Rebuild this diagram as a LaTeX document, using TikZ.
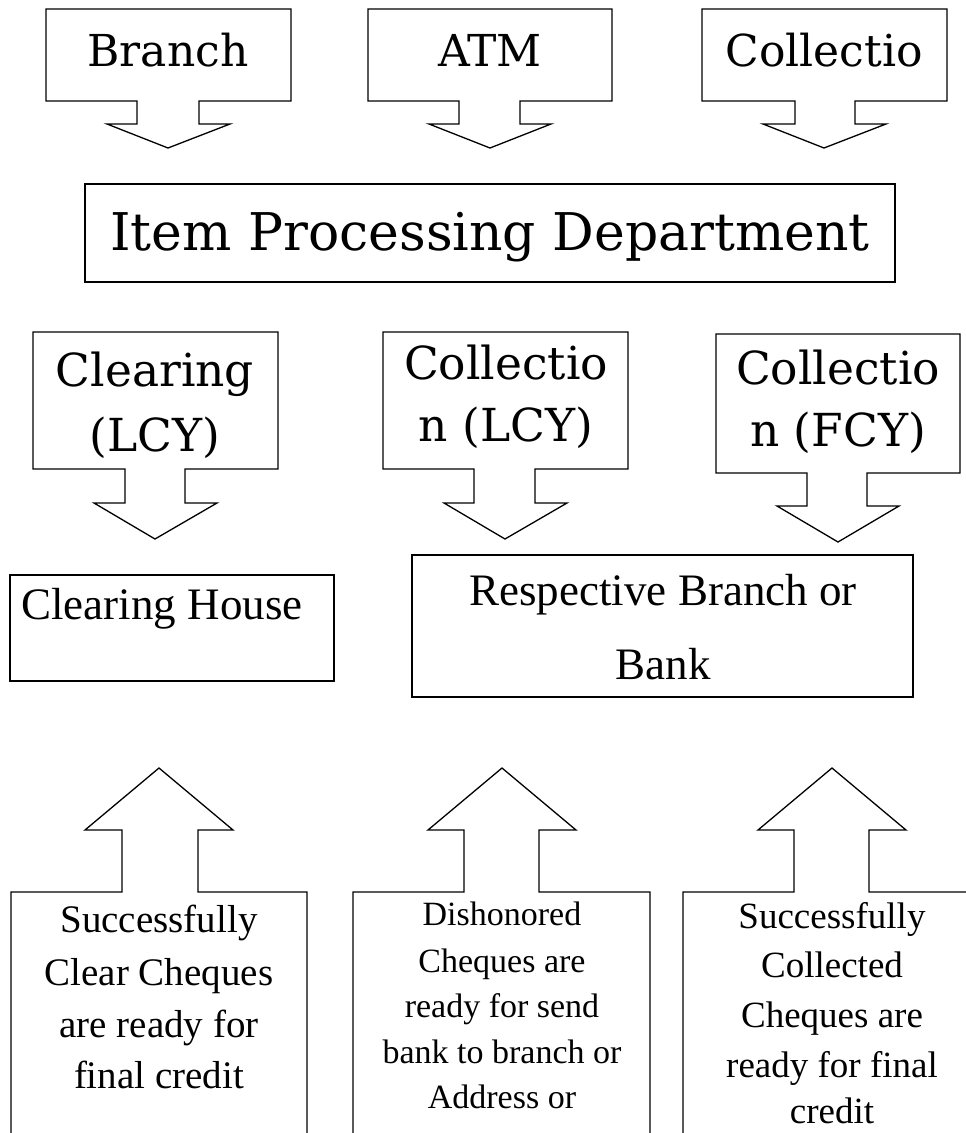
\documentclass[tikz,border=0pt]{standalone}
\usepackage{fontspec}
\setmainfont{Liberation Serif}
\newfontfamily\slab{DejaVu Serif}
\begin{document}
\begin{tikzpicture}[x=1pt,y=-1pt,
  shp/.style={draw=black,line width=1.3pt,line join=miter,fill=white},
  slabtxt/.style={anchor=base,inner sep=0pt,font=\slab\fontsize{44}{50}\selectfont},
  slabtwo/.style={anchor=base,inner sep=0pt,font=\slab\fontsize{45.5}{52}\selectfont},
  bigtxt/.style={anchor=base,inner sep=0pt,font=\slab\fontsize{52}{60}\selectfont},
  tmtxt/.style={anchor=base,inner sep=0pt,font=\fontsize{45}{52}\selectfont},
  tma/.style={anchor=base,inner sep=0pt,font=\fontsize{39}{45}\selectfont},
  tmb/.style={anchor=base,inner sep=0pt,font=\fontsize{34}{40}\selectfont},
  tmc/.style={anchor=base,inner sep=0pt,font=\fontsize{37}{43}\selectfont}]
\useasboundingbox (0,0) rectangle (966,1133);
\fill[white] (0,0) rectangle (966,1133);
\clip (0,0) rectangle (966,1133);

% ---- top row: down-arrow callouts
\draw[shp] (46,9) -- (291,9) -- (291,101) -- (199,101) -- (199,124) -- (230,124) -- (168,148) -- (107,124) -- (137,124) -- (137,101) -- (46,101) -- cycle;
\draw[shp] (368,9) -- (612,9) -- (612,101) -- (520,101) -- (520,124) -- (551,124) -- (490,148) -- (429,124) -- (459,124) -- (459,101) -- (368,101) -- cycle;
\draw[shp] (702,9) -- (947,9) -- (947,101) -- (855,101) -- (855,124) -- (886,124) -- (824,148) -- (763,124) -- (795,124) -- (795,101) -- (702,101) -- cycle;
\node[slabtxt] (branch) at (168,66) {Branch};
\node[slabtxt] (atm) at (490,66) {ATM};
\node[slabtxt] (coll) at (824,66) {Collectio};

% ---- Item Processing Department
\draw[shp] (85,184) rectangle (895,282);
\node[bigtxt] (ipd) at (490,250) {Item Processing Department};

% ---- second row: down-arrow callouts
\draw[shp] (33,332) -- (278,332) -- (278,469) -- (185,469) -- (185,503) -- (217,503) -- (155,539) -- (94,503) -- (125,503) -- (125,469) -- (33,469) -- cycle;
\draw[shp] (383,332) -- (628,332) -- (628,469) -- (535,469) -- (535,503) -- (567,503) -- (505,539) -- (444,503) -- (474,503) -- (474,469) -- (383,469) -- cycle;
\draw[shp] (716,334) -- (960,334) -- (960,473) -- (867,473) -- (867,506) -- (899,506) -- (838,542) -- (777,506) -- (807,506) -- (807,473) -- (716,473) -- cycle;
\node[slabtwo] (clr1) at (155,386) {Clearing};
\node[slabtwo] (clr2) at (155,451) {(LCY)};
\node[slabtwo] (cl1) at (506,379) {Collectio};
\node[slabtwo] (cl2) at (506,441) {n (LCY)};
\node[slabtwo] (cf1) at (838,384) {Collectio};
\node[slabtwo] (cf2) at (838,446) {n (FCY)};

% ---- Clearing House / Respective Branch
\draw[shp] (10,575) rectangle (334,681);
\node[tmtxt] (ch) at (162,619) {Clearing House};
\draw[shp] (412,555) rectangle (913,697);
\node[tmtxt] (rb1) at (663,605) {Respective Branch or};
\node[tmtxt] (rb2) at (663,679) {Bank};

% ---- bottom row: up-arrow callouts
\draw[shp] (11,1145) -- (11,892) -- (122,892) -- (122,830) -- (85,830) -- (159,768) -- (233,830) -- (198,830) -- (198,892) -- (307,892) -- (307,1145);
\draw[shp] (353,1145) -- (353,892) -- (464,892) -- (464,830) -- (428,830) -- (502,768) -- (576,830) -- (539,830) -- (539,892) -- (650,892) -- (650,1145);
\draw[shp] (683,1145) -- (683,892) -- (794,892) -- (794,830) -- (758,830) -- (832,768) -- (906,830) -- (869,830) -- (869,892) -- (980,892) -- (980,1145);

\node[tma] (a1) at (159,932) {Successfully};
\node[tma] (a2) at (159,985) {Clear Cheques};
\node[tma] (a3) at (159,1037) {are ready for};
\node[tma] (a4) at (159,1088) {final credit};

\node[tmb] (b1) at (502,925) {Dishonored};
\node[tmb] (b2) at (502,972) {Cheques are};
\node[tmb] (b3) at (502,1017) {ready for send};
\node[tmb] (b4) at (502,1063) {bank to branch or};
\node[tmb] (b5) at (502,1108) {Address or};

\node[tmc] (c1) at (832,928) {Successfully};
\node[tmc] (c2) at (832,977) {Collected};
\node[tmc] (c3) at (832,1027) {Cheques are};
\node[tmc] (c4) at (832,1077) {ready for final};
\node[tmc] (c5) at (832,1123) {credit};
\end{tikzpicture}
\end{document}
